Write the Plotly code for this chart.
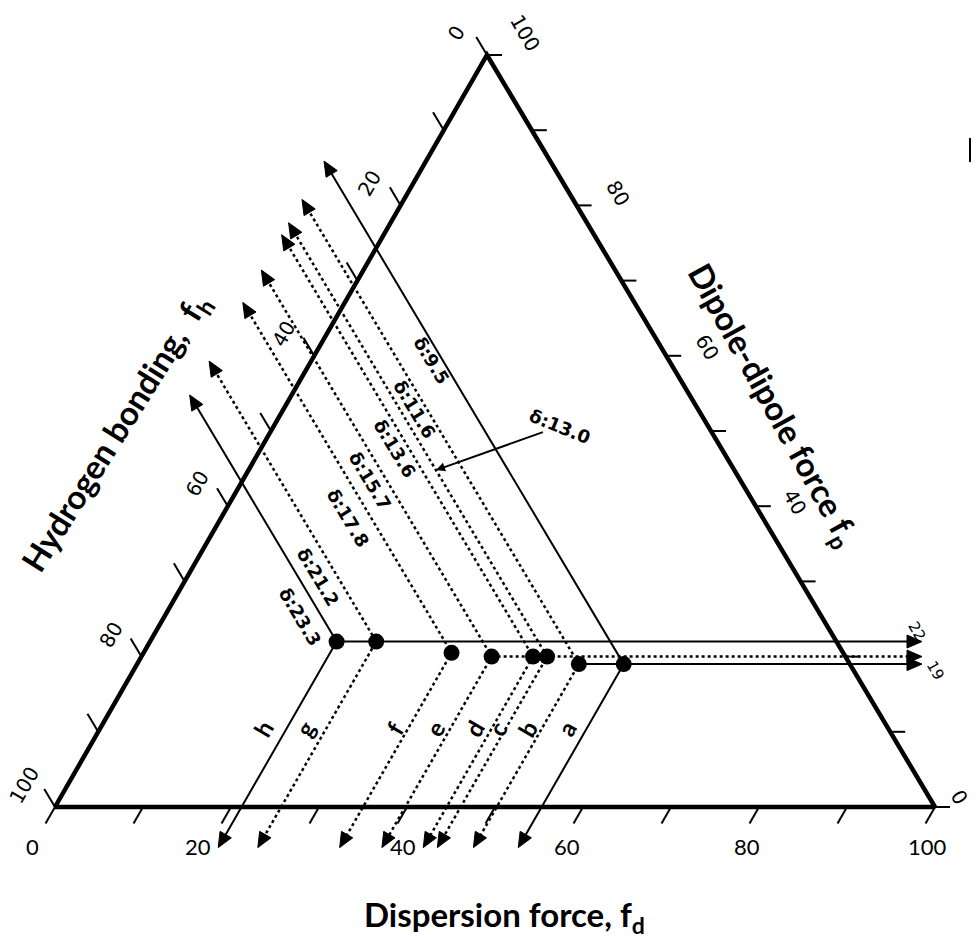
import math
import plotly.graph_objects as go

# ---------------------------------------------------------------------------
# Data: solvents on a Teas (fractional parameter) diagram, values in percent
# ---------------------------------------------------------------------------
solvents = ["a", "b", "c", "d", "e", "f", "g", "h"]
delta = [9.5, 11.6, 13.0, 13.6, 15.7, 17.8, 21.2, 23.3]
f_d = [55.3, 50.2, 46.1, 44.5, 39.8, 35.0, 25.7, 21.2]
f_p = [19.0, 19.0, 20.0, 20.0, 20.0, 20.5, 22.0, 22.0]
f_h = [25.7, 30.8, 33.9, 35.5, 40.2, 44.5, 52.3, 56.8]
solid_solvents = ["a", "h"]

# horizontal read-off lines for the dipole axis
fp_levels = [22, 20, 19]
fp_level_from = ["h", "e", "b"]
fp_level_text = ["22", "", "19"]

ticks = list(range(0, 101, 10))
fd_tick_labels = [0, 20, 40, 60, 80, 100]
fh_tick_labels = [0, 20, 40, 60, 80, 100]
fp_tick_labels = [0, 40, 60, 80, 100]

# ---------------------------------------------------------------------------
# Geometry of the drawing
# ---------------------------------------------------------------------------
WIDTH, HEIGHT = 976, 938
SCALE = 880.0                 # pixels per unit of base length
X0, Y0 = 55.0, 807.0          # pixel position of the f_h = 100 corner
APEX = (432 / SCALE, 752 / SCALE)


def px(n):
    return n / SCALE


def tern(d, p):
    """(f_d, f_p) in percent -> cartesian; f_h is the remainder."""
    return d / 100 + p / 100 * APEX[0], p / 100 * APEX[1]


def unit(vx, vy):
    n = math.hypot(vx, vy)
    return vx / n, vy / n


DIR_FH = unit(APEX[0] - 1, APEX[1])   # constant f_h, toward the left edge
DIR_FD = unit(-APEX[0], -APEX[1])     # constant f_d, toward the base
DIR_FP = (1.0, 0.0)                   # constant f_p, toward the right

FD_TIP = -11.6                 # where the f_h read-off arrows stop
FP_TIP = -5.4                  # where the f_d read-off arrows stop
X_TIP = px(922 - X0)           # where the f_p read-off arrows stop

HEAD_LEN, HEAD_HALF = px(15), px(6.5)


def arrow_head(tip, d):
    bx, by = tip[0] - d[0] * HEAD_LEN, tip[1] - d[1] * HEAD_LEN
    nx, ny = -d[1], d[0]
    return [tip, (bx + nx * HEAD_HALF, by + ny * HEAD_HALF),
            (bx - nx * HEAD_HALF, by - ny * HEAD_HALF), tip]


def shaft_end(tip, d):
    return tip[0] - d[0] * HEAD_LEN * 0.7, tip[1] - d[1] * HEAD_LEN * 0.7


def add_path(fig, pts, width, dash="solid"):
    fig.add_trace(go.Scatter(
        x=[p[0] if p else None for p in pts], y=[p[1] if p else None for p in pts],
        mode="lines", line=dict(color="black", width=width, dash=dash),
        hoverinfo="skip"))


def label(fig, pos, text, size, family, angle=0, dx=0, dy=0):
    fig.add_annotation(x=pos[0], y=pos[1], text=text, showarrow=False,
                       textangle=angle, xshift=dx, yshift=-dy,
                       xanchor="center", yanchor="middle",
                       font=dict(family=family, size=size, color="black"))


fig = go.Figure()
idx = {s: i for i, s in enumerate(solvents)}

# triangle frame
corners = [tern(0, 0), tern(100, 0), tern(0, 100), tern(0, 0)]
add_path(fig, corners, 4.5)

# tick marks on the three edges
tick_pts = []
for v in ticks:
    p0 = tern(v, 0)
    tick_pts += [p0, (p0[0] + DIR_FD[0] * px(19), p0[1] + DIR_FD[1] * px(19)), None]
    p0 = tern(0, 100 - v)
    tick_pts += [p0, (p0[0] + DIR_FH[0] * px(21), p0[1] + DIR_FH[1] * px(21)), None]
    p0 = tern(100 - v, v)
    tick_pts += [p0, (p0[0] + px(15), p0[1]), None]
add_path(fig, tick_pts, 2)

# read-off lines for every solvent
heads = []
for i, s in enumerate(solvents):
    dot = tern(f_d[i], f_p[i])
    ul_tip = tern(FD_TIP, 100 - f_h[i] - FD_TIP)
    dn_tip = tern(f_d[i], FP_TIP)
    solid = s in solid_solvents
    add_path(fig, [shaft_end(ul_tip, DIR_FH), dot, shaft_end(dn_tip, DIR_FD)],
             2 if solid else 2.5, "solid" if solid else "dot")
    heads += arrow_head(ul_tip, DIR_FH) + [None] + arrow_head(dn_tip, DIR_FD) + [None]

LEVEL_DASH = {22: "solid", 20: "dot", 19: "solid"}
for level, start, text in zip(fp_levels, fp_level_from, fp_level_text):
    p0 = tern(f_d[idx[start]], level)
    tip = (X_TIP, tern(0, level)[1])
    dash = LEVEL_DASH[level]
    add_path(fig, [p0, shaft_end(tip, DIR_FP)], 2 if dash == "solid" else 2.5, dash)
    heads += arrow_head(tip, DIR_FP) + [None]

fig.add_trace(go.Scatter(
    x=[p[0] if p else None for p in heads], y=[p[1] if p else None for p in heads],
    mode="lines", fill="toself", fillcolor="black",
    line=dict(color="black", width=1), hoverinfo="skip"))

# solvent points
pts = [tern(d, p) for d, p in zip(f_d, f_p)]
fig.add_trace(go.Scatter(x=[p[0] for p in pts], y=[p[1] for p in pts],
                         mode="markers", marker=dict(color="black", size=16),
                         hoverinfo="skip"))

# ---------------------------------------------------------------------------
# Text
# ---------------------------------------------------------------------------
SANS = "DejaVu Sans"
HUMAN = "Lato"

# f_d tick labels under the base
fd_label_dx = [-23, -33, -4, -16, -12, -8]
for v, dx in zip(fd_tick_labels, fd_label_dx):
    label(fig, tern(v, 0), str(v), 22, HUMAN, 0, dx, 39)

# f_h labels along the left edge
for v in fh_tick_labels:
    p0 = tern(0, 100 - v)
    end = (p0[0] + DIR_FH[0] * px(21), p0[1] + DIR_FH[1] * px(21))
    label(fig, end, str(v), 20, SANS, -60, -20, -4)

# f_p labels along the right edge
FP_LABEL_SHIFT = {0: (9, -10), 40: (24, -4), 60: (26, -9), 80: (26, -12), 100: (23, -22)}
for v in fp_tick_labels:
    p0 = tern(100 - v, v)
    dx, dy = FP_LABEL_SHIFT[v]
    label(fig, (p0[0] + px(15), p0[1]), str(v), 20, SANS, 60, dx, dy)

# axis titles
label(fig, (px(504 - X0), px(Y0 - 916)), "<b>Dispersion force, f<sub>d</sub></b>",
      33, HUMAN)
label(fig, (px(116 - X0), px(Y0 - 433)), "<b>Hydrogen bonding,  f<sub>h</sub></b>",
      33, HUMAN, -58)
label(fig, (px(773 - X0), px(Y0 - 405)), "<b>Dipole-dipole force f<sub>p</sub></b>",
      33, HUMAN, 61)

# solubility parameter labels along the f_h read-off lines
DELTA_AT = {"a": (59.4, -11), "b": (52.8, -13), "d": (47.7, -14), "e": (43.4, -17),
            "f": (38.4, -23), "g": (30.6, -20), "h": (25.3, -22)}
for i, s in enumerate(solvents):
    if s not in DELTA_AT:
        continue
    q, dx = DELTA_AT[s]
    label(fig, tern(100 - f_h[i] - q, q), f"<b>δ:{delta[i]:.1f}</b>", 18, SANS, 59, dx)

# solvent c is labelled with a pointer
ci = idx["c"]
q = 44.8
tip = tern(100 - f_h[ci] - q, q)
fig.add_annotation(x=tip[0], y=tip[1], ax=124, ay=-44,
                   text=f"<b>δ:{delta[ci]:.1f}</b>", textangle=22,
                   font=dict(family=SANS, size=18, color="black"),
                   showarrow=True, arrowhead=2, arrowsize=0.9, arrowwidth=2,
                   arrowcolor="black", standoff=0)

# solvent letters along the f_d read-off lines
LETTER_DX = {"a": -21, "b": -15, "c": -9, "d": -18, "e": -16, "f": -14, "g": -22, "h": -24}
for i, s in enumerate(solvents):
    label(fig, tern(f_d[i], 10.5), f"<b>{s}</b>", 24, HUMAN, -60, LETTER_DX[s])

# f_p values at the right-hand arrows
LEVEL_TEXT_SHIFT = {22: (-5, -11), 19: (13, 6)}
for level, text in zip(fp_levels, fp_level_text):
    if not text:
        continue
    dx, dy = LEVEL_TEXT_SHIFT[level]
    label(fig, (X_TIP, tern(0, level)[1]), text, 15, SANS, 60, dx, dy)

fig.add_shape(type="line", xref="paper", yref="paper",
              x0=970 / WIDTH, x1=970 / WIDTH,
              y0=1 - 138 / HEIGHT, y1=1 - 162 / HEIGHT,
              line=dict(color="black", width=2))

fig.update_layout(
    width=WIDTH, height=HEIGHT, margin=dict(l=0, r=0, t=0, b=0),
    paper_bgcolor="white", plot_bgcolor="white", showlegend=False,
    xaxis=dict(range=[px(-X0), px(WIDTH - X0)], visible=False, fixedrange=True),
    yaxis=dict(range=[px(Y0 - HEIGHT), px(Y0)], visible=False, fixedrange=True),
)

fig.write_html("out.html")
